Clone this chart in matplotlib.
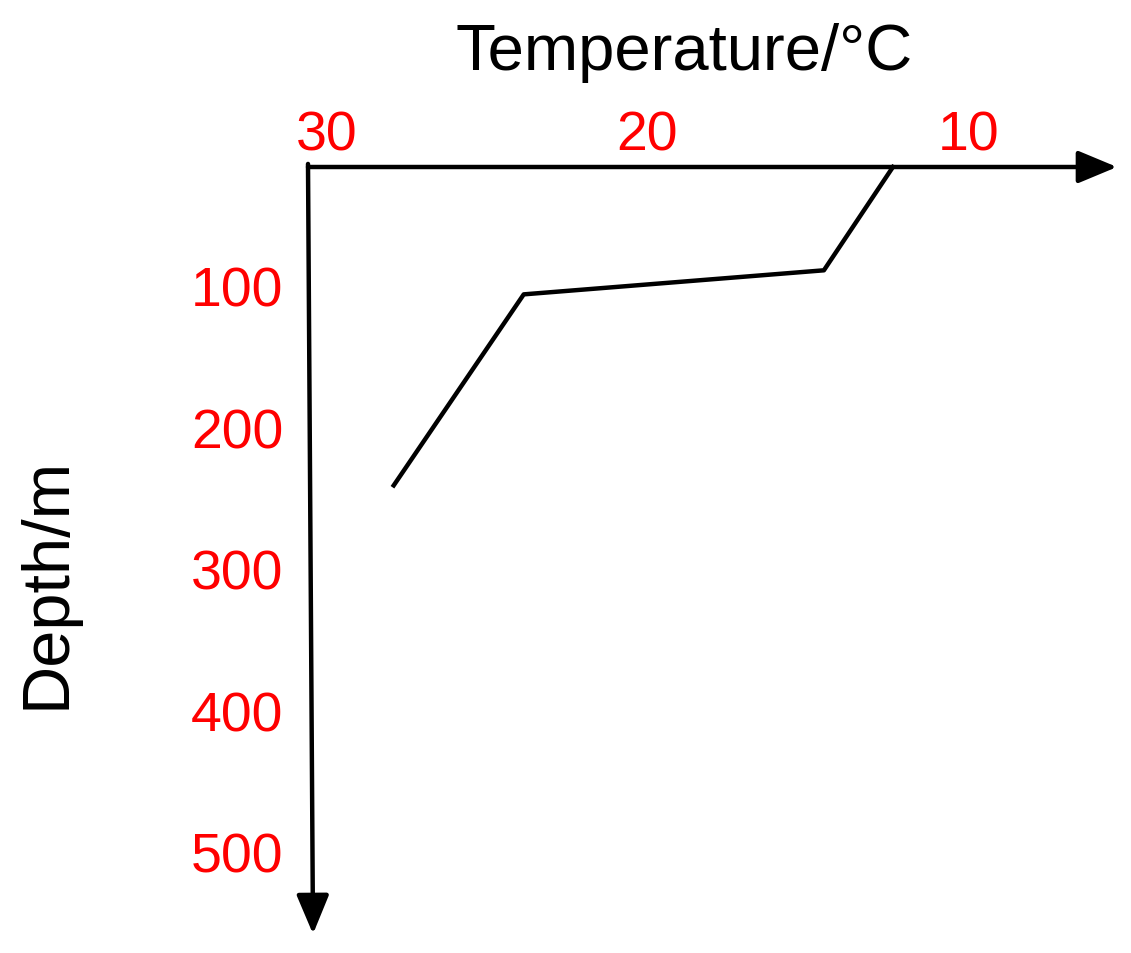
import matplotlib
matplotlib.use("Agg")
import matplotlib.pyplot as plt

# temperature profile
temperature = [12.35, 14.5, 23.85, 27.9]
depth = [16, 89, 106, 241]

temp_ticks = [30, 20, 10]
depth_ticks = [100, 200, 300, 400, 500]

plt.rcParams["font.family"] = ["Liberation Sans", "DejaVu Sans"]

W, H = 1131, 954
fig = plt.figure(figsize=(W / 100, H / 100), dpi=100)

# axes box spans from the origin of the drawn axes to the arrow tips
x0, x1 = 308, 1117
y0, y1 = 168, 935
ax = fig.add_axes([x0 / W, 1 - y1 / H, (x1 - x0) / W, (y1 - y0) / H])
ax.set_xlim(30.57, 5.37)
ax.set_ylim(558, 16)

for s in ax.spines.values():
    s.set_visible(False)

ax.xaxis.tick_top()
ax.set_xticks(temp_ticks)
ax.set_xticklabels([str(t) for t in temp_ticks])
ax.set_yticks(depth_ticks)
ax.set_yticklabels([str(d) for d in depth_ticks])
ax.tick_params(axis="both", length=0, labelcolor="red", labelsize=40)
ax.tick_params(axis="x", pad=4)
ax.tick_params(axis="y", pad=18)

ax.set_xlabel("Temperature/°C", fontsize=47)
ax.xaxis.set_label_position("top")
ax.xaxis.label.set_va("baseline")
ax.xaxis.set_label_coords(0.4648, 1.1278)

ax.set_ylabel("Depth/m", fontsize=48)
ax.yaxis.label.set_va("center")
ax.yaxis.set_label_coords(-0.3226, 0.459)

# axis arrows
arrow = dict(arrowstyle="-|>,head_length=0.6,head_width=0.25", lw=3.2, color="black",
             mutation_scale=40, shrinkA=0, shrinkB=0)
ax.annotate("", xy=(1, 1), xytext=(0, 1), xycoords="axes fraction", arrowprops=arrow,
            annotation_clip=False)
ax.annotate("", xy=(0.0062, 0), xytext=(0, 1.004), xycoords="axes fraction", arrowprops=arrow,
            annotation_clip=False)

ax.plot(temperature, depth, color="black", lw=3.2, clip_on=False)

fig.savefig("out.png", dpi=100)
